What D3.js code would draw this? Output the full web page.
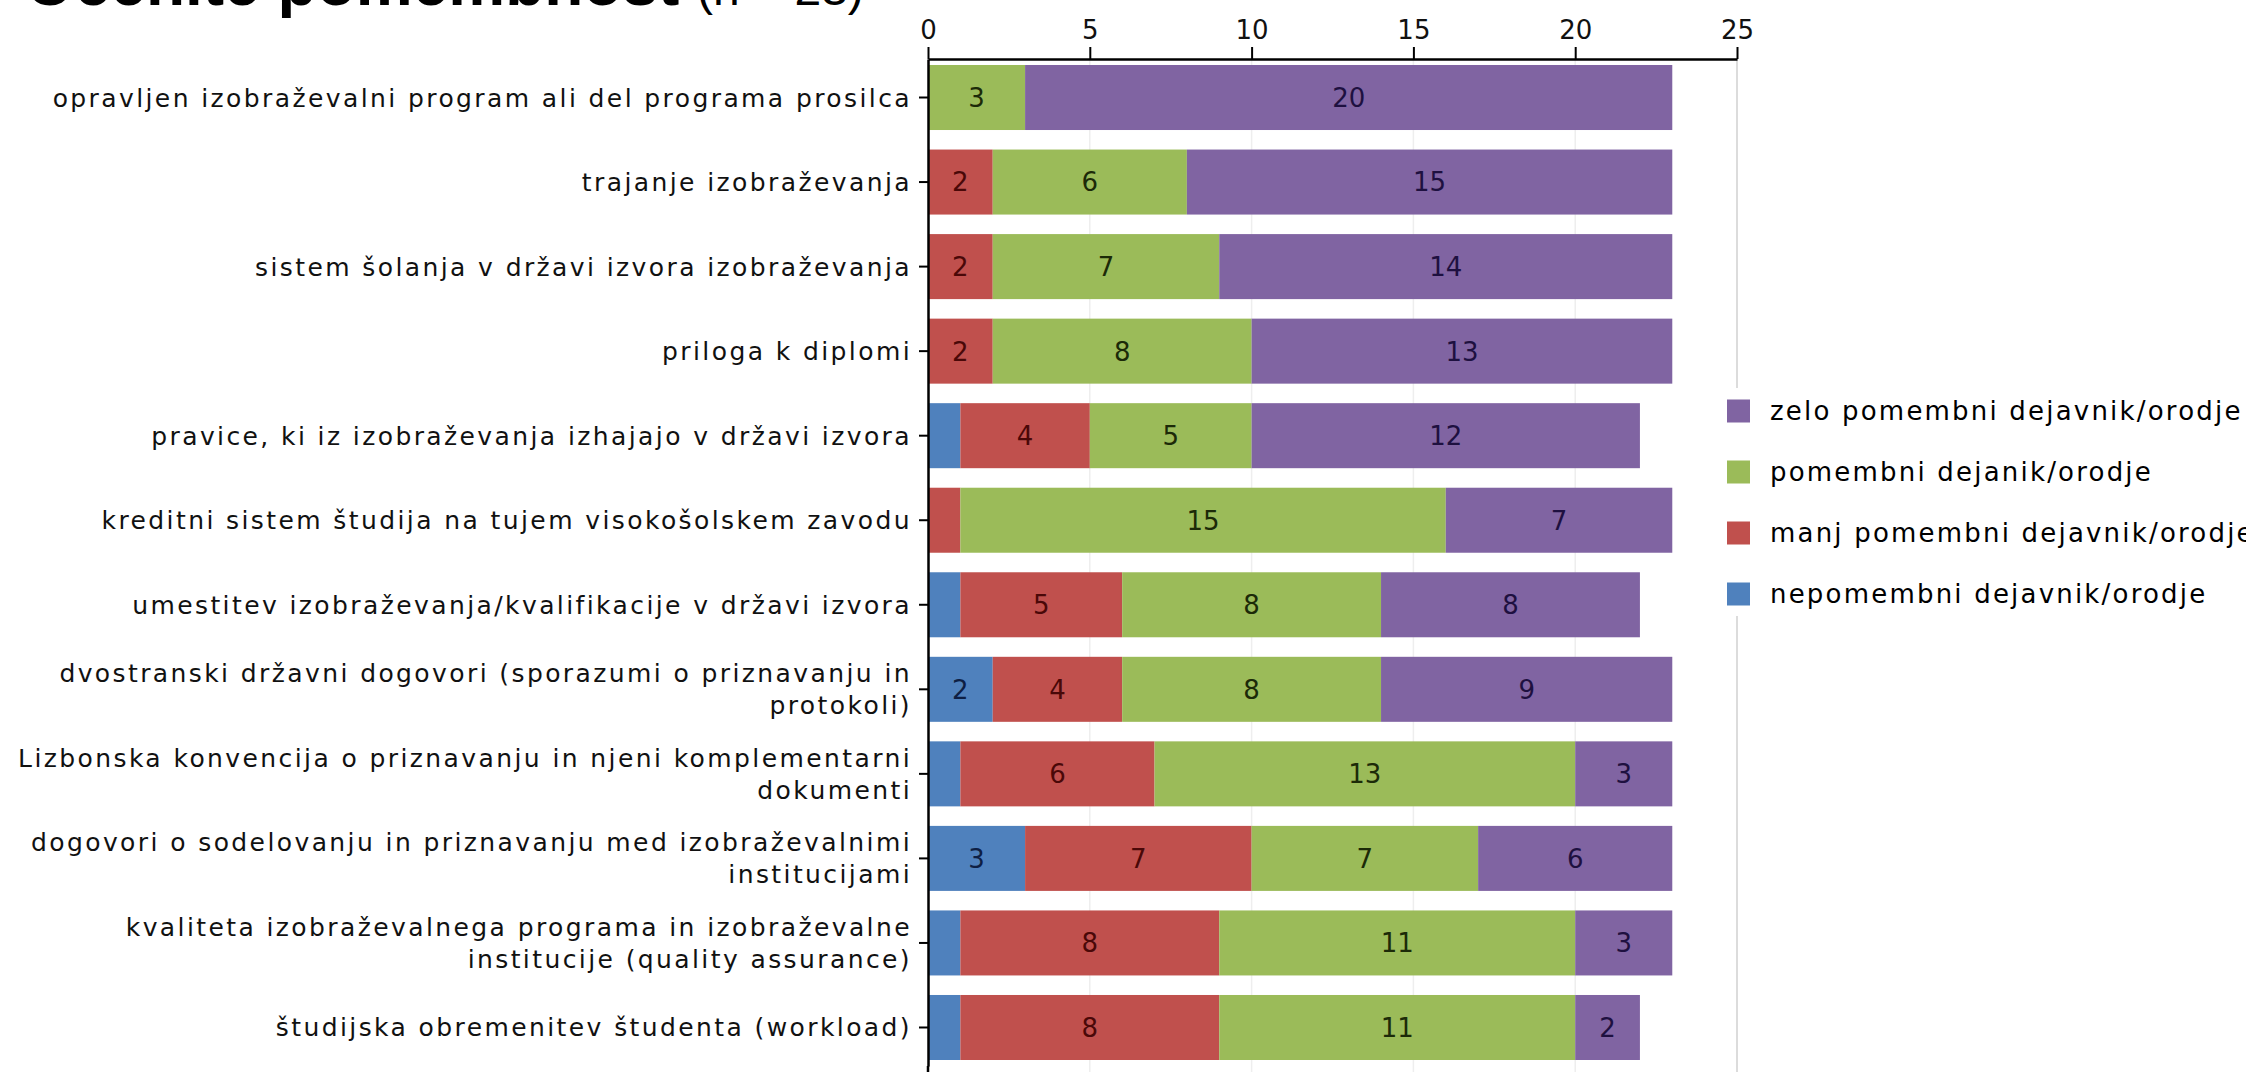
<!DOCTYPE html>
<html>
<head>
<meta charset="utf-8">
<script src="https://cdn.jsdelivr.net/npm/d3@7"></script>
<style>
  html, body { margin: 0; padding: 0; background: #fff; }
  svg { display: block; }
</style>
</head>
<body>
<svg id="chart" width="2246" height="1072"></svg>
<script>
// ---- data ----
const titleBold = "Ocenite pomembnost";
const titleNormal = "(n = 23)";

const categories = [
  "opravljen izobraževalni program ali del programa prosilca",
  "trajanje izobraževanja",
  "sistem šolanja v državi izvora izobraževanja",
  "priloga k diplomi",
  "pravice, ki iz izobraževanja izhajajo v državi izvora",
  "kreditni sistem študija na tujem visokošolskem zavodu",
  "umestitev izobraževanja/kvalifikacije v državi izvora",
  "dvostranski državni dogovori (sporazumi o priznavanju in\nprotokoli)",
  "Lizbonska konvencija o priznavanju in njeni komplementarni\ndokumenti",
  "dogovori o sodelovanju in priznavanju med izobraževalnimi\ninstitucijami",
  "kvaliteta izobraževalnega programa in izobraževalne\ninstitucije (quality assurance)",
  "študijska obremenitev študenta (workload)"
];

const seriesNames = [
  "nepomembni dejavnik/orodje",
  "manj pomembni dejavnik/orodje",
  "pomembni dejanik/orodje",
  "zelo pomembni dejavnik/orodje"
];

const nepomembni   = [0, 0, 0, 0, 1, 0, 1, 2, 1, 3, 1, 1];
const manjPomembni = [0, 2, 2, 2, 4, 1, 5, 4, 6, 7, 8, 8];
const pomembni     = [3, 6, 7, 8, 5, 15, 8, 8, 13, 7, 11, 11];
const zeloPomembni = [20, 15, 14, 13, 12, 7, 8, 9, 3, 6, 3, 2];

const xTicks = [0, 5, 10, 15, 20, 25];

// ---- styles ----
const seriesColors = ["#4F81BD", "#C0504D", "#9BBB59", "#8064A2"];
const labelColors  = ["#0e1f44", "#4a0808", "#1c2a08", "#1e1040"];
const FONT = "'DejaVu Sans', Verdana, sans-serif";

// ---- build table ----
const keys = ["nep", "manj", "pom", "zelo"];
const table = categories.map((c, i) => ({
  cat: c,
  nep: nepomembni[i],
  manj: manjPomembni[i],
  pom: pomembni[i],
  zelo: zeloPomembni[i]
}));
const stacked = d3.stack().keys(keys)(table);

const svg = d3.select("#chart");

const x = d3.scaleLinear().domain([0, 25]).range([928, 1737]);
const y = d3.scaleBand().domain(categories).range([59, 1066])
  .paddingInner(0.231).paddingOuter(0.071);

// gridlines
svg.append("g").selectAll("line")
  .data(xTicks.filter(t => t > 0 && t < 25))
  .join("line")
  .attr("x1", d => x(d)).attr("x2", d => x(d))
  .attr("y1", 59).attr("y2", 1072)
  .attr("stroke", "#eeeeee").attr("stroke-width", 1.5);
// right border of plot
svg.append("line")
  .attr("x1", x(25)).attr("x2", x(25))
  .attr("y1", 59).attr("y2", 1072)
  .attr("stroke", "#dcdcdc").attr("stroke-width", 2);

// bars
const layers = svg.append("g").selectAll("g")
  .data(stacked)
  .join("g")
  .attr("fill", (d, i) => seriesColors[i]);

layers.selectAll("rect")
  .data(d => d)
  .join("rect")
  .attr("x", d => x(d[0]))
  .attr("width", d => x(d[1]) - x(d[0]))
  .attr("y", d => y(d.data.cat))
  .attr("height", y.bandwidth());

// value labels
const vlab = svg.append("g").selectAll("g")
  .data(stacked)
  .join("g")
  .attr("fill", (d, i) => labelColors[i]);

vlab.selectAll("text")
  .data(d => d.filter(p => (p[1] - p[0]) >= 2))
  .join("text")
  .attr("x", d => (x(d[0]) + x(d[1])) / 2)
  .attr("y", d => y(d.data.cat) + y.bandwidth() / 2)
  .attr("text-anchor", "middle")
  .attr("dy", "0.36em")
  .attr("font-family", FONT)
  .attr("font-size", 26)
  .text(d => d[1] - d[0]);

// top axis
const xAxis = svg.append("g")
  .attr("transform", "translate(0,59)")
  .call(d3.axisTop(x).tickValues(xTicks).tickSizeInner(12).tickSizeOuter(0).tickPadding(8));
xAxis.select(".domain").attr("stroke", "#000").attr("stroke-width", 2.5);
xAxis.selectAll(".tick line").attr("stroke", "#000").attr("stroke-width", 2);
xAxis.selectAll(".tick text")
  .attr("font-family", FONT).attr("font-size", 26).attr("fill", "#111");

// left axis
const yAxis = svg.append("g")
  .attr("transform", "translate(928,0)")
  .call(d3.axisLeft(y).tickSizeInner(9).tickSizeOuter(0).tickPadding(7));
yAxis.select(".domain").attr("stroke", "#000").attr("stroke-width", 2.5);
yAxis.selectAll(".tick line").attr("stroke", "#000").attr("stroke-width", 2);
yAxis.selectAll(".tick text")
  .attr("font-family", FONT).attr("font-size", 25)
  .attr("letter-spacing", "2.4px")
  .attr("fill", "#111")
  .each(function(d) {
    const t = d3.select(this);
    const lines = d.split("\n");
    const xPos = t.attr("x");
    t.text(null).attr("dy", null);
    const lh = 32;
    const start = -(lines.length - 1) * lh / 2;
    lines.forEach((ln, i) => {
      t.append("tspan")
        .attr("x", xPos)
        .attr("y", start + i * lh)
        .attr("dy", "0.36em")
        .text(ln);
    });
  });
// extend y axis line to bottom
svg.append("line")
  .attr("x1", 928).attr("x2", 928)
  .attr("y1", 1066).attr("y2", 1072)
  .attr("stroke", "#000").attr("stroke-width", 2.5);

// legend
const legendOrder = [3, 2, 1, 0];
svg.append("rect")
  .attr("x", 1712).attr("y", 388).attr("width", 534).attr("height", 228)
  .attr("fill", "#fff");
const lg = svg.append("g").selectAll("g")
  .data(legendOrder)
  .join("g")
  .attr("transform", (d, i) => `translate(1727,${411 + i * 61})`);
lg.append("rect")
  .attr("x", 0).attr("y", -11.5).attr("width", 23).attr("height", 23)
  .attr("fill", d => seriesColors[d]);
lg.append("text")
  .attr("x", 43).attr("y", 0).attr("dy", "0.36em")
  .attr("font-family", FONT).attr("font-size", 26)
  .attr("letter-spacing", "2.2px")
  .attr("fill", "#000")
  .text(d => seriesNames[d]);

// title (cut off at top in the reference)
const title = svg.append("text")
  .attr("x", 25).attr("y", 5)
  .attr("font-family", "'Liberation Sans', Arial, sans-serif")
  .attr("fill", "#000");
title.append("tspan").attr("font-weight", "bold").attr("font-size", 64).text(titleBold + " ");
title.append("tspan").attr("font-size", 48).text(titleNormal);
</script>
</body>
</html>
